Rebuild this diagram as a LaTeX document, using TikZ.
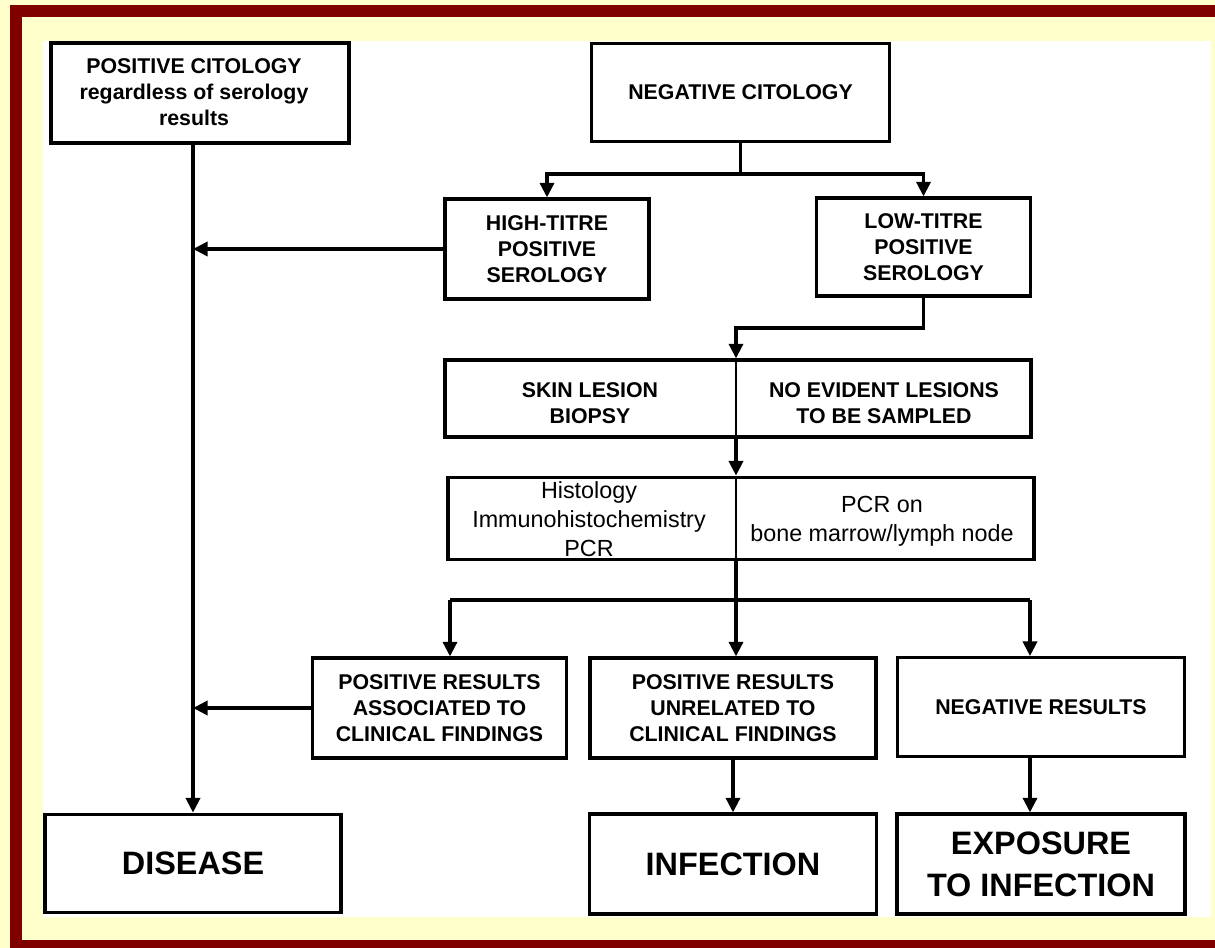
\documentclass[tikz,border=0pt]{standalone}
\usepackage{fontspec}
\setmainfont{Liberation Sans}
\usetikzlibrary{arrows.meta}
\definecolor{bgyellow}{HTML}{FFFFCC}
\definecolor{framered}{HTML}{800000}
\tikzset{
  box/.style={draw, line width=2.3pt, fill=white, align=center, inner sep=2pt,
    font=\fontsize{16}{19.5}\selectfont\bfseries},
  bigbox/.style={box, font=\fontsize{24.3}{31.5}\selectfont\bfseries},
  plain/.style={align=center, inner sep=0pt, font=\fontsize{17.5}{21.5}\selectfont},
  bold/.style={align=center, inner sep=0pt, font=\fontsize{16}{19.5}\selectfont\bfseries},
  conn/.style={line width=2.6pt},
  arr/.style={conn, -{Triangle[length=11pt,width=10.5pt]}},
  thru/.style={line width=1.5pt}
}
\begin{document}
\begin{tikzpicture}[x=0.75pt,y=-0.75pt]
\useasboundingbox (0,0) rectangle (1215,948);
% frame
\fill[bgyellow] (0,0) rectangle (1215,948);
\fill[framered] (10,5) rectangle (1215,948);
\fill[bgyellow] (22,17) rectangle (1215,940);
\fill[white] (43,41) rectangle (1211,917);

% boxes
\node[box, minimum width=223.5pt, minimum height=75pt] (poscit) at (200,93) {};
\node[bold] (poscitT) at (194,92.5) {POSITIVE CITOLOGY\\regardless of serology\\results};
\node[box, minimum width=224pt, minimum height=74pt] (negcit) at (740.5,92.5) {NEGATIVE CITOLOGY};
\node[box, minimum width=153pt, minimum height=75pt] (high) at (547,249)
  {HIGH-TITRE\\POSITIVE\\SEROLOGY};
\node[box, minimum width=160pt, minimum height=73.5pt] (low) at (923.5,247)
  {LOW-TITRE\\POSITIVE\\SEROLOGY};
\node[box, minimum width=439.5pt, minimum height=57.75pt] (lesion) at (738,398.5) {};
\node[bold] (lesL) at (590,403) {SKIN LESION\\BIOPSY};
\node[bold] (lesR) at (884,403) {NO EVIDENT LESIONS\\TO BE SAMPLED};
\node[box, minimum width=439.5pt, minimum height=62pt] (hist) at (741,518.5) {};
\node[plain] (histL) at (589,519) {Histology\\Immunohistochemistry\\PCR};
\node[plain] (histR) at (882,521.5) {PCR on\\bone marrow/lymph node};
\node[box, minimum width=190.5pt, minimum height=75pt] (posassoc) at (439.5,708)
  {POSITIVE RESULTS\\ASSOCIATED TO\\CLINICAL FINDINGS};
\node[box, minimum width=214.5pt, minimum height=75pt] (posunrel) at (733,708)
  {POSITIVE RESULTS\\UNRELATED TO\\CLINICAL FINDINGS};
\node[box, minimum width=215pt, minimum height=74pt] (negres) at (1041,707) {NEGATIVE RESULTS};
\node[bigbox, minimum width=222pt, minimum height=74pt] (disease) at (193,863.5) {DISEASE};
\node[bigbox, minimum width=215pt, minimum height=75pt] (infection) at (733,864) {INFECTION};
\node[bigbox, minimum width=216pt, minimum height=75pt] (exposure) at (1041,864)
  {EXPOSURE\\TO INFECTION};

% connectors
\coordinate (fork1) at (0,174);
\coordinate (axis) at (736,328);
\coordinate (fork2) at (736,600);
\coordinate (fork2L) at (450,600);
\coordinate (fork2R) at (1030,600);

\draw[arr] (poscit.south -| disease.north) -- (disease.north);
\draw[arr, line width=3pt] (high.west) -- (high.west -| disease.north);
\draw[arr, line width=3.2pt] (posassoc.west) -- (posassoc.west -| disease.north);

\draw[conn] (negcit.south) -- (negcit.south |- fork1);
\draw[arr] (negcit.south |- fork1) -| (high.north);
\draw[arr] (negcit.south |- fork1) -| (low.north);

\draw[arr] (low.south) |- (axis) -- (axis |- lesion.north);
\draw[thru] (axis |- lesion.north) -- (axis |- lesion.south);
\draw[arr] (axis |- lesion.south) -- (axis |- hist.north);
\draw[thru] (axis |- hist.north) -- (axis |- hist.south);
\draw[conn] (axis |- hist.south) -- (fork2);
\draw[conn] (fork2L) -- (fork2R);
\draw[arr] (fork2L) -- (fork2L |- posassoc.north);
\draw[arr] (fork2) -- (fork2 |- posunrel.north);
\draw[arr] (fork2R) -- (fork2R |- negres.north);

\draw[arr] (posunrel.south) -- (infection.north);
\draw[arr] (fork2R |- negres.south) -- (fork2R |- exposure.north);
\end{tikzpicture}
\end{document}
